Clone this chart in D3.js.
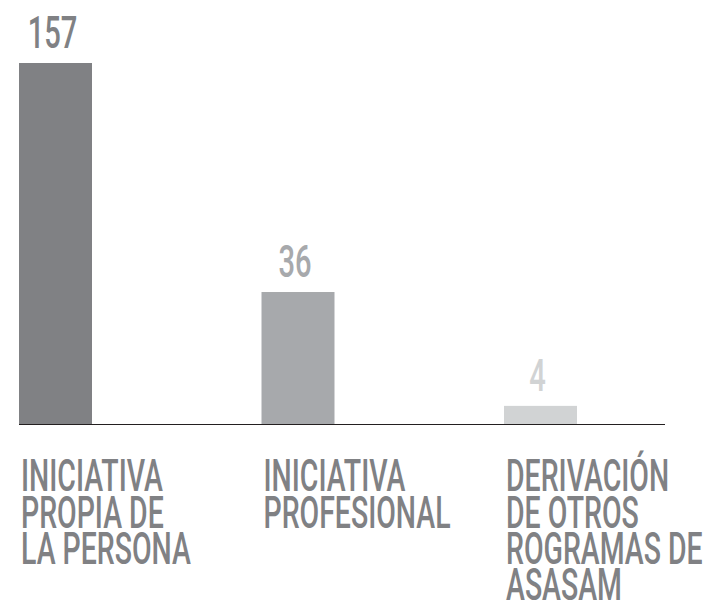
<!DOCTYPE html>
<html>
<head>
<meta charset="utf-8">
<script src="https://cdn.jsdelivr.net/npm/d3@7"></script>
<style>
  html, body { margin: 0; padding: 0; background: #fff; }
  text { font-family: Roboto, "Noto Sans", sans-serif; font-weight: 500; }
</style>
</head>
<body>
<svg id="chart"></svg>
<script>
// data
const categories = ["propia", "profesional", "derivacion"];
const values = [157, 36, 4];
const labels = [
  ["INICIATIVA", "PROPIA DE", "LA PERSONA"],
  ["INICIATIVA", "PROFESIONAL"],
  ["DERIVACIÓN", "DE OTROS", "ROGRAMAS DE", "ASASAM"]
];
const barColors = ["#808184", "#a7a9ac", "#d1d3d4"];

const width = 708, height = 607;
const margin = { top: 63, left: 19, right: 131, bottom: 183 };
const baseY = height - margin.bottom;

const svg = d3.select("#chart")
  .attr("width", width)
  .attr("height", height);

// bars in the original are not proportional; a symlog scale fits them well
const y = d3.scaleSymlog()
  .constant(60)
  .domain([0, d3.max(values)])
  .range([baseY, margin.top]);

const x = d3.scaleBand()
  .domain(categories)
  .range([margin.left, width - margin.right])
  .paddingInner(0.699)
  .paddingOuter(0);

// condensed look: measure a reference word and squeeze horizontally
const probe = svg.append("text").attr("font-size", 44).text("INICIATIVA");
const sx = 142 / probe.node().getComputedTextLength();
probe.remove();

// baseline
svg.append("line")
  .attr("x1", margin.left)
  .attr("x2", 665)
  .attr("y1", baseY + 0.5)
  .attr("y2", baseY + 0.5)
  .attr("stroke", "#231f20")
  .attr("stroke-width", 1.2);

// bars
svg.append("g")
  .selectAll("rect")
  .data(values)
  .join("rect")
  .attr("x", (d, i) => x(categories[i]))
  .attr("y", d => y(d))
  .attr("width", x.bandwidth())
  .attr("height", d => baseY - y(d))
  .attr("fill", (d, i) => barColors[i]);

// value labels
svg.append("g")
  .selectAll("text")
  .data(values)
  .join("text")
  .attr("font-size", 45)
  .attr("font-weight", 700)
  .attr("text-anchor", "middle")
  .attr("fill", (d, i) => barColors[i])
  .attr("transform", (d, i) =>
    `translate(${x(categories[i]) + x.bandwidth() / 2 - 3},${y(d) - 15}) scale(${sx},1)`)
  .text(d => d);

// category labels
const lab = svg.append("g")
  .selectAll("g")
  .data(labels)
  .join("g")
  .attr("transform", (d, i) => `translate(${x(categories[i]) + 2},491) scale(${sx},1)`);

lab.selectAll("text")
  .data(d => d)
  .join("text")
  .attr("font-size", 44)
  .attr("fill", "#808184")
  .attr("y", (d, i) => i * 36.5)
  .text(d => d);
</script>
</body>
</html>
